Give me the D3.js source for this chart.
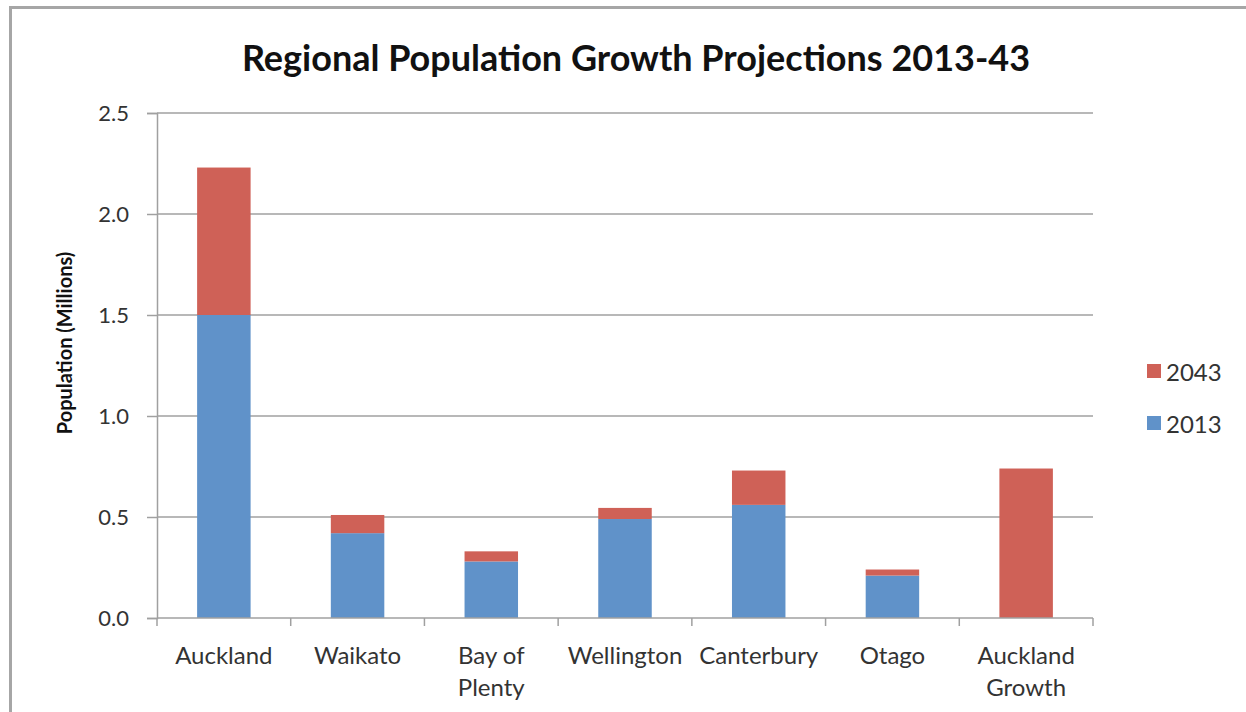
<!DOCTYPE html>
<html>
<head>
<meta charset="utf-8">
<script src="https://cdn.jsdelivr.net/npm/d3@7"></script>
<style>
  html, body { margin: 0; padding: 0; background: #fff; }
  svg { display: block; font-family: Lato, "Open Sans", sans-serif; }
</style>
</head>
<body>
<svg id="chart" width="1246" height="712"></svg>
<script>
// Regional populations in millions
const categories = ["Auckland", "Waikato", "Bay of Plenty", "Wellington", "Canterbury", "Otago", "Auckland Growth"];
const pop2013 = [1.50, 0.42, 0.28, 0.49, 0.56, 0.21, 0];
const growth2043 = [0.73, 0.09, 0.05, 0.055, 0.17, 0.03, 0.74];
const yTicks = [0, 0.5, 1.0, 1.5, 2.0, 2.5];
const seriesNames = ["2013", "2043"];
const seriesColors = ["#6092c9", "#cf6157"];

const svg = d3.select("#chart");
const W = 1246, H = 712;
const plot = { left: 157, right: 1093, top: 113, bottom: 618 };

// frame
svg.append("path")
  .attr("d", `M10.5,${H} L10.5,7.5 L${W},7.5`)
  .attr("fill", "none").attr("stroke", "#a6a6a6").attr("stroke-width", 3);

const x = d3.scaleBand().domain(categories)
  .range([plot.left, plot.right]).paddingInner(0.6).paddingOuter(0.3);
const y = d3.scaleLinear().domain([0, 2.5]).range([plot.bottom, plot.top]);

// stacked series
const rows = categories.map((c, i) => ({ cat: c, "2013": pop2013[i], "2043": growth2043[i] }));
const stacked = d3.stack().keys(seriesNames)(rows);

// gridlines
svg.append("g").selectAll("line").data(yTicks.filter(d => d > 0)).join("line")
  .attr("x1", plot.left).attr("x2", plot.right)
  .attr("y1", d => y(d)).attr("y2", d => y(d))
  .attr("stroke", "#a0a0a0").attr("stroke-width", 1.5);

// bars
svg.append("g").selectAll("g").data(stacked).join("g")
  .attr("fill", (d, i) => seriesColors[i])
  .selectAll("rect").data(d => d).join("rect")
  .attr("x", d => x(d.data.cat))
  .attr("width", x.bandwidth())
  .attr("y", d => y(d[1]))
  .attr("height", d => y(d[0]) - y(d[1]));

// y axis
const yAxis = svg.append("g").attr("transform", `translate(${plot.left},0)`)
  .call(d3.axisLeft(y).tickValues(yTicks).tickFormat(d3.format(".1f")).tickSize(10).tickPadding(18));
yAxis.select(".domain").attr("stroke", "#a0a0a0").attr("stroke-width", 1.5);
yAxis.selectAll(".tick line").attr("stroke", "#a0a0a0").attr("stroke-width", 1.5);
yAxis.selectAll(".tick text").attr("font-size", 22).attr("fill", "#333")
  .attr("font-family", "Lato, 'Open Sans', sans-serif");

// x axis baseline and category ticks
const xg = svg.append("g");
xg.append("line").attr("x1", plot.left).attr("x2", plot.right)
  .attr("y1", plot.bottom).attr("y2", plot.bottom)
  .attr("stroke", "#a0a0a0").attr("stroke-width", 1.5);
const boundaries = categories.map(c => x(c) - x.step() * x.paddingInner() / 2).concat([plot.right]);
xg.selectAll("line.tk").data(boundaries).join("line").attr("class", "tk")
  .attr("x1", d => d).attr("x2", d => d)
  .attr("y1", plot.bottom).attr("y2", plot.bottom + 8)
  .attr("stroke", "#a0a0a0").attr("stroke-width", 1.5);

// category labels, wrapped onto two lines where needed
const wrapped = {
  "Bay of Plenty": ["Bay of", "Plenty"],
  "Auckland Growth": ["Auckland", "Growth"]
};
const lbl = svg.append("g").selectAll("text").data(categories).join("text")
  .attr("x", d => x(d) + x.bandwidth() / 2)
  .attr("y", 664)
  .attr("text-anchor", "middle")
  .attr("font-size", 24).attr("fill", "#333");
lbl.each(function(d) {
  const lines = wrapped[d] || [d];
  d3.select(this).selectAll("tspan").data(lines).join("tspan")
    .attr("x", x(d) + x.bandwidth() / 2)
    .attr("dy", (l, i) => i === 0 ? 0 : 32)
    .text(l => l);
});

// title
svg.append("text")
  .attr("x", 636).attr("y", 71)
  .attr("text-anchor", "middle")
  .attr("font-size", 36).attr("font-weight", "bold").attr("fill", "#111")
  .text("Regional Population Growth Projections 2013-43");

// y axis title
svg.append("text")
  .attr("transform", "translate(72,343) rotate(-90)")
  .attr("text-anchor", "middle")
  .attr("font-size", 20).attr("font-weight", "bold").attr("fill", "#111")
  .text("Population (Millions)");

// legend: 2043 above 2013
const legendItems = [
  { name: seriesNames[1], color: seriesColors[1], y: 371 },
  { name: seriesNames[0], color: seriesColors[0], y: 423 }
];
const lg = svg.append("g").selectAll("g").data(legendItems).join("g")
  .attr("transform", d => `translate(1147,${d.y})`);
lg.append("rect").attr("x", 0).attr("y", -7).attr("width", 14).attr("height", 14)
  .attr("fill", d => d.color);
lg.append("text").attr("x", 19).attr("y", 10)
  .attr("font-size", 24).attr("fill", "#333").text(d => d.name);
</script>
</body>
</html>
